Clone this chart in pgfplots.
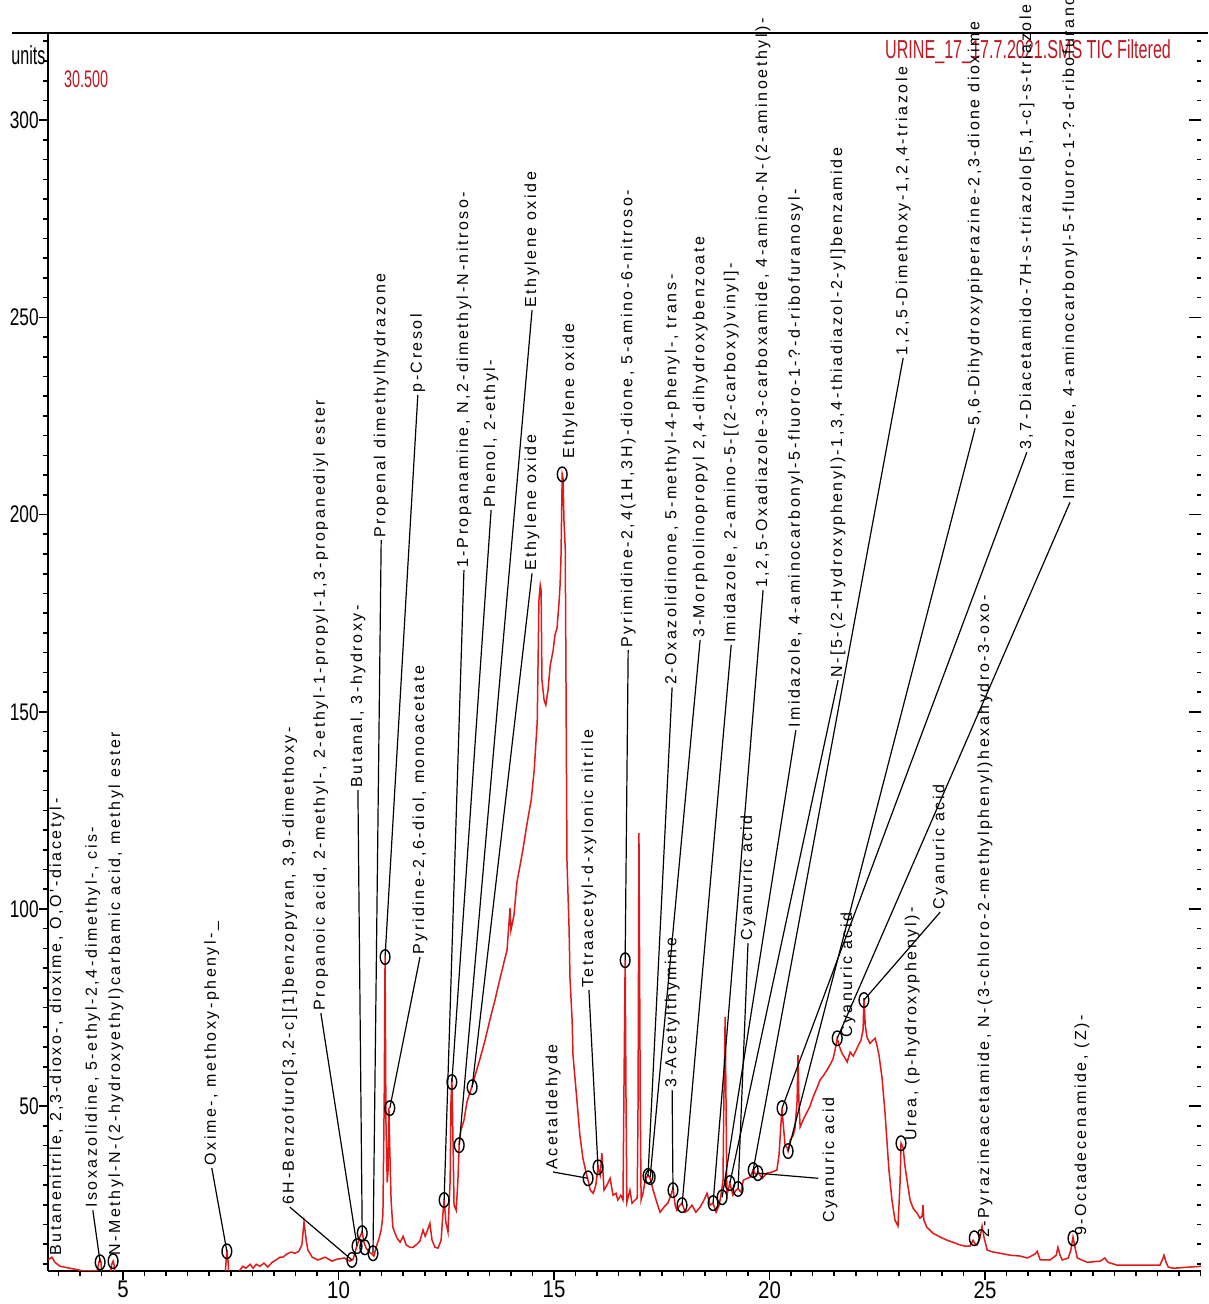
\documentclass[border=0pt]{standalone}
\usepackage{pgfplots}
\pgfplotsset{compat=1.18}
\usepackage{fontspec}
\setmainfont{Liberation Sans}
\newfontfamily\lblfont[LetterSpace=16]{Liberation Sans}
\definecolor{trace}{RGB}{225,25,25}
\definecolor{ttl}{RGB}{190,25,35}
\tikzset{
  lbl/.style={line width=0.6pt, black},
  lbltext/.style={rotate=90, anchor=west, inner sep=1pt, font=\lblfont\fontsize{8}{8}\selectfont}
}
\newcommand{\lbl}[5]{\draw[lbl] (axis cs:#1,#2) -- (axis cs:#3,#4) node[lbltext] {#5};}
\newcommand{\lbn}[3]{\node[lbltext] at (axis cs:#1,#2) {#3};}
\begin{document}
\begin{tikzpicture}
\useasboundingbox (-24pt,-16.5pt) rectangle (580pt,635.5pt);
\begin{axis}[
  scale only axis, width=576.5pt, height=619pt,
  xmin=3.26, xmax=30.01, ymin=8.2, ymax=322.1,
  axis x line*=bottom, axis y line*=left,
  x axis line style={line width=1.4pt, -},
  y axis line style={line width=1pt, -},
  clip mode=individual,
  xtick={5,10,15,20,25}, minor xtick={3.5,4,...,30},
  ytick={50,100,...,300}, minor ytick={10,15,...,320},
  tick align=outside, major tick length=4.5pt, minor tick length=2.5pt,
  every tick/.style={black, line width=0.8pt},
  /pgf/number format/assume math mode=true,
  xticklabel style={font=\fontsize{12}{12}\selectfont, xscale=0.85, inner sep=0.5pt},
  yticklabel style={font=\fontsize{12}{12}\selectfont, xscale=0.72, inner sep=0pt},
]
\addplot[trace, line width=0.75pt] coordinates {
(3.26,11.0) (3.35,11.7) (3.42,10.4) (3.54,9.4) (3.77,8.9) (4.00,8.4) (4.10,8.2) (4.40,8.2) (4.44,10.4) (4.47,11.0) (4.49,10.4) (4.51,7.2) (4.70,7.2) (4.74,9.9) (4.77,10.7) (4.79,9.9) (4.84,5.9) (7.34,3.3) (7.39,10.4) (7.41,13.5) (7.44,10.4) (7.46,3.3) (7.67,3.3) (7.71,8.4) (7.78,9.4) (7.85,8.9) (7.95,9.9) (8.02,8.9) (8.09,9.9) (8.18,9.4) (8.27,10.2) (8.36,9.2) (8.46,10.4) (8.55,11.0) (8.64,11.7) (8.71,11.7) (8.80,12.5) (8.90,13.0) (8.99,12.7) (9.08,13.2) (9.15,14.8) (9.20,20.6) (9.25,16.0) (9.29,13.5) (9.39,11.7) (9.52,11.0) (9.69,11.7) (9.85,10.7) (9.97,11.2) (10.13,11.5) (10.27,10.7) (10.34,11.2) (10.41,14.0) (10.45,15.3) (10.50,17.0) (10.55,18.1) (10.59,15.5) (10.64,14.0) (10.71,13.0) (10.78,12.5) (10.82,12.0) (10.89,14.8) (10.94,16.5) (10.99,18.6) (11.03,22.4) (11.06,51.5) (11.08,87.8) (11.10,46.4) (11.13,30.7) (11.15,33.8) (11.17,49.5) (11.19,38.8) (11.22,26.2) (11.26,19.3) (11.31,17.8) (11.36,16.5) (11.43,15.5) (11.50,17.0) (11.57,14.8) (11.66,14.2) (11.73,14.2) (11.82,15.0) (11.89,15.8) (11.96,18.6) (12.01,17.0) (12.05,18.1) (12.12,20.3) (12.17,16.0) (12.24,14.2) (12.31,14.0) (12.38,16.0) (12.42,22.4) (12.45,26.4) (12.49,20.6) (12.54,18.1) (12.59,31.2) (12.61,51.5) (12.63,57.1) (12.66,38.8) (12.68,24.9) (12.73,23.6) (12.77,31.2) (12.80,40.4) (12.84,43.9) (12.91,46.4) (12.98,51.0) (13.05,53.5) (13.10,55.1) (13.19,58.6) (13.28,61.9) (13.40,66.7) (13.51,71.8) (13.63,76.9) (13.75,82.5) (13.84,86.5) (13.91,89.6) (13.96,97.2) (13.98,100.2) (14.00,94.6) (14.07,98.4) (14.14,106.8) (14.21,110.9) (14.28,115.2) (14.35,120.0) (14.40,123.3) (14.47,127.6) (14.54,135.2) (14.61,147.4) (14.65,178.3) (14.68,182.1) (14.70,180.8) (14.72,158.0) (14.77,152.9) (14.81,151.7) (14.86,155.5) (14.91,161.6) (14.98,165.6) (15.02,169.4) (15.07,171.2) (15.12,178.3) (15.14,182.1) (15.16,188.4) (15.19,210.2) (15.21,209.2) (15.23,198.6) (15.26,191.5) (15.28,152.9) (15.30,112.4) (15.35,94.6) (15.37,82.5) (15.42,71.8) (15.44,62.9) (15.51,54.1) (15.60,42.6) (15.67,36.8) (15.74,33.3) (15.79,31.2) (15.84,28.7) (15.91,27.9) (15.97,30.0) (16.02,34.5) (16.07,32.5) (16.11,38.1) (16.16,28.7) (16.23,30.0) (16.30,31.7) (16.37,27.4) (16.44,27.9) (16.48,26.2) (16.55,27.4) (16.60,26.2) (16.62,51.5) (16.65,87.0) (16.67,51.5) (16.69,25.7) (16.76,28.7) (16.81,25.4) (16.88,26.2) (16.93,26.7) (16.95,51.5) (16.97,119.2) (17.00,51.5) (17.02,26.2) (17.07,28.2) (17.11,31.2) (17.18,32.5) (17.23,31.7) (17.30,28.7) (17.39,25.4) (17.46,23.1) (17.55,24.4) (17.64,25.4) (17.71,27.4) (17.76,29.2) (17.81,24.9) (17.85,23.6) (17.92,24.9) (17.97,25.4) (18.04,23.1) (18.11,23.6) (18.20,24.9) (18.29,23.1) (18.39,24.4) (18.48,26.2) (18.55,27.9) (18.62,24.9) (18.69,25.4) (18.76,23.1) (18.83,24.9) (18.87,27.2) (18.92,31.2) (18.94,51.5) (18.97,72.6) (18.99,51.5) (19.01,27.4) (19.08,30.5) (19.15,27.4) (19.22,28.7) (19.27,29.0) (19.34,28.2) (19.39,31.2) (19.48,31.7) (19.55,32.0) (19.62,33.8) (19.69,32.5) (19.73,33.3) (19.83,31.7) (19.94,33.0) (20.06,33.3) (20.17,33.8) (20.22,37.6) (20.27,46.4) (20.29,49.5) (20.31,46.4) (20.36,40.1) (20.41,39.4) (20.43,38.6) (20.48,41.4) (20.55,42.6) (20.59,44.4) (20.64,51.5) (20.66,62.9) (20.68,51.5) (20.71,44.7) (20.80,47.0) (20.87,48.5) (20.94,50.0) (21.01,52.3) (21.10,54.6) (21.17,56.6) (21.26,57.9) (21.33,59.1) (21.40,60.4) (21.47,61.9) (21.52,64.2) (21.57,67.2) (21.61,65.5) (21.68,63.4) (21.75,62.2) (21.80,61.2) (21.87,63.7) (21.94,62.7) (22.01,64.2) (22.05,65.2) (22.12,66.7) (22.17,69.3) (22.19,77.4) (22.22,70.5) (22.26,67.5) (22.33,65.9) (22.40,66.7) (22.45,67.2) (22.49,65.5) (22.54,62.9) (22.61,57.1) (22.68,48.2) (22.73,40.1) (22.77,33.8) (22.84,26.2) (22.91,21.1) (22.98,19.6) (23.03,31.2) (23.05,40.6) (23.10,39.4) (23.14,35.0) (23.19,31.2) (23.26,26.2) (23.33,24.1) (23.42,22.9) (23.49,21.6) (23.54,22.1) (23.56,24.9) (23.58,21.1) (23.65,19.3) (23.79,17.8) (23.96,16.8) (24.12,16.0) (24.30,15.3) (24.42,14.8) (24.54,14.5) (24.65,14.5) (24.72,16.0) (24.77,15.0) (24.81,14.8) (24.88,16.5) (24.93,19.6) (24.98,16.5) (25.05,13.5) (25.19,13.0) (25.35,12.7) (25.58,12.2) (25.81,12.0) (25.98,11.5) (26.16,12.5) (26.21,13.2) (26.28,11.0) (26.51,11.0) (26.65,12.2) (26.69,14.2) (26.74,12.2) (26.79,11.0) (26.93,11.5) (26.99,13.5) (27.04,16.8) (27.09,14.0) (27.14,11.5) (27.37,10.4) (27.67,10.7) (27.78,11.5) (27.85,10.4) (28.06,9.7) (28.43,9.7) (29.06,9.7) (29.13,11.5) (29.15,12.2) (29.20,10.4) (29.25,9.2) (29.36,8.9) (29.76,9.2) (30.01,9.4)
};
\addplot[only marks, mark=o, black, mark size=2.7pt, mark options={line width=0.7pt, xscale=0.9, yscale=1.35}] coordinates {
(4.47,10.4) (4.77,10.7) (7.41,13.2) (10.31,11.0) (10.43,14.5) (10.55,17.8) (10.61,14.2) (10.80,12.7) (11.08,87.8) (11.19,49.5) (12.45,26.2) (12.63,56.1) (12.80,40.1) (13.10,54.8) (15.19,210.2) (15.79,31.7) (16.02,34.5) (16.65,87.0) (17.18,32.3) (17.23,32.0) (17.76,28.7) (17.97,24.9) (18.69,25.4) (18.90,26.9) (19.08,30.5) (19.27,29.0) (19.62,33.8) (19.73,33.0) (20.29,49.5) (20.43,38.6) (21.57,67.2) (22.19,76.9) (23.05,40.6) (24.75,16.5) (27.04,16.5)
};
% frame top line and texts
\draw[line width=1pt] (rel axis cs:-0.0312,1) -- (rel axis cs:1.006,1);
\node[font=\fontsize{13}{13}\selectfont, xscale=0.62, inner sep=0pt] at (rel axis cs:-0.017,0.982) {units};
\node[font=\fontsize{12}{12}\selectfont, xscale=0.6, inner sep=0pt, text=ttl] at (rel axis cs:0.033,0.963) {30.500};
\node[font=\fontsize{13}{13}\selectfont, xscale=0.62, inner sep=0pt, text=ttl] at (rel axis cs:0.850,0.985) {URINE\_17\_17.7.2021.SMS TIC Filtered};
% labels
\lbn{3.47}{11.5}{Butanenitrile, 2,3-dioxo-, dioxime, O,O'-diacetyl-}
\lbl{4.47}{10.4}{4.30}{23.6}{Isoxazolidine, 5-ethyl-2,4-dimethyl-, cis-}
\lbn{4.84}{11.5}{N-Methyl-N-(2-hydroxyethyl)carbamic acid, methyl ester}
\lbl{7.41}{13.2}{7.06}{34.3}{Oxime-, methoxy-phenyl-\_}
\lbl{10.31}{11.0}{8.87}{24.4}{6H-Benzofuro[3,2-c][1]benzopyran, 3,9-dimethoxy-}
\lbl{10.43}{14.5}{9.59}{73.6}{Propanoic acid, 2-methyl-, 2-ethyl-1-propyl-1,3-propanediyl ester}
\lbl{10.55}{17.8}{10.45}{130.1}{Butanal, 3-hydroxy-}
\lbl{10.80}{12.7}{10.99}{193.5}{Propenal dimethylhydrazone}
\lbl{11.08}{87.8}{11.84}{230.3}{p-Cresol}
\lbl{11.19}{49.5}{11.89}{87.8}{Pyridine-2,6-diol, monoacetate}
\lbl{12.45}{26.2}{12.91}{185.9}{1-Propanamine, N,2-dimethyl-N-nitroso-}
\lbl{12.63}{56.1}{13.54}{201.1}{Phenol, 2-ethyl-}
\lbl{12.80}{40.1}{14.49}{251.8}{Ethylene oxide}
\lbl{13.10}{54.8}{14.49}{185.1}{Ethylene oxide}
\lbn{15.37}{213.5}{Ethylene oxide}
\lbl{15.79}{31.7}{14.98}{33.3}{Acetaldehyde}
\lbl{16.02}{34.5}{15.81}{79.4}{Tetraacetyl-d-xylonic nitrile}
\lbl{16.65}{87.0}{16.72}{165.6}{Pyrimidine-2,4(1H,3H)-dione, 5-amino-6-nitroso-}
\lbl{17.18}{32.3}{17.74}{156.2}{2-Oxazolidinone, 5-methyl-4-phenyl-, trans-}
\lbl{17.23}{32.0}{18.39}{168.2}{3-Morpholinopropyl 2,4-dihydroxybenzoate}
\lbl{17.76}{28.7}{17.74}{54.1}{3-Acetylthymine}
\lbl{17.97}{24.9}{19.11}{166.9}{Imidazole, 2-amino-5-[(2-carboxy)vinyl]-}
\lbl{18.69}{25.4}{19.85}{180.8}{1,2,5-Oxadiazole-3-carboxamide, 4-amino-N-(2-aminoethyl)-}
\lbl{18.90}{26.9}{20.61}{145.3}{Imidazole, 4-aminocarbonyl-5-fluoro-1-?-d-ribofuranosyl-}
\lbl{19.08}{30.5}{21.59}{158.0}{N-[5-(2-Hydroxyphenyl)-1,3,4-thiadiazol-2-yl]benzamide}
\lbl{19.27}{29.0}{19.50}{91.3}{Cyanuric acid}
\lbl{19.62}{33.8}{23.10}{239.7}{1,2,5-Dimethoxy-1,2,4-triazole}
\lbl{20.43}{38.6}{24.77}{221.9}{5,6-Dihydroxypiperazine-2,3-dione dioxime}
\lbl{20.29}{49.5}{25.97}{215.8}{3,7-Diacetamido-7H-s-triazolo[5,1-c]-s-triazole}
\lbl{21.57}{67.2}{26.97}{203.1}{Imidazole, 4-aminocarbonyl-5-fluoro-1-?-d-ribofuranosyl-}
\draw[lbl] (axis cs:19.73,33.0) -- (axis cs:21.13,31.7);
\lbn{21.40}{19.8}{Cyanuric acid}
\lbn{21.82}{66.7}{Cyanuric acid}
\lbl{22.19}{76.9}{23.96}{99.2}{Cyanuric acid}
\lbn{23.31}{40.6}{Urea, (p-hydroxyphenyl)-}
\lbn{25.00}{16.0}{2-Pyrazineacetamide, N-(3-chloro-2-methylphenyl)hexahydro-3-oxo-}
\lbn{27.25}{16.5}{9-Octadecenamide, (Z)-}
\end{axis}
\begin{axis}[
  scale only axis, width=576.5pt, height=619pt,
  xmin=3.26, xmax=30.01, ymin=8.2, ymax=322.1,
  axis x line=none, axis y line*=right,
  y axis line style={draw=none},
  ytick={50,100,...,300}, minor ytick={10,15,...,320},
  yticklabels={}, tick align=inside,
  major tick length=6pt, minor tick length=2pt,
  every tick/.style={black, line width=0.8pt},
]
\end{axis}
\end{tikzpicture}
\end{document}
